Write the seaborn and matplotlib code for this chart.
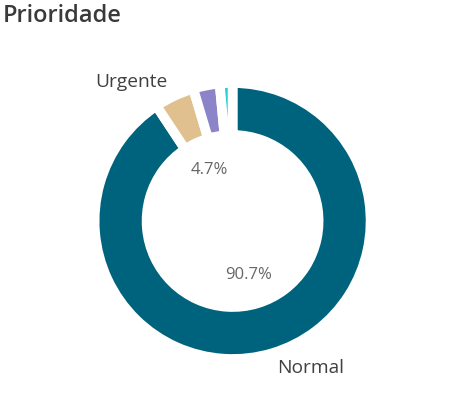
import matplotlib
matplotlib.use("Agg")
import matplotlib.pyplot as plt
import seaborn as sns

# Data
categories = ["Normal", "Urgente", "Alta", "Crítica"]
values = [90.7, 4.7, 3.1, 1.5]
colors = ["#00637D", "#E1C08F", "#8C84C8", "#22D3D6"]
label_threshold = 4.0

sns.set_theme(style="white")
plt.rcParams["font.family"] = ["Open Sans", "DejaVu Sans"]

W, H = 467, 396
fig = plt.figure(figsize=(W / 100, H / 100), dpi=100)
ax = fig.add_axes([0, 0, 1, 1])

total = sum(values)
labels = [c if v / total * 100 >= label_threshold else "" for c, v in zip(categories, values)]

def fmt(p):
    return f"{p:.1f}%" if p >= label_threshold else ""

cx, cy = 232.6, H - 221
lw = 7
wedges, texts, autotexts = ax.pie(
    values,
    labels=labels,
    colors=colors,
    startangle=90,
    counterclock=False,
    center=(cx, cy),
    radius=138,
    autopct=fmt,
    pctdistance=0.405,
    labeldistance=1.115,
    wedgeprops=dict(width=52, edgecolor="white", linewidth=lw),
    textprops=dict(fontsize=13.8, color="#404040"),
    frame=True,
)
ax.set_xlim(0, W)
ax.set_ylim(0, H)
ax.set_aspect("equal")
ax.axis("off")
for t in texts:
    x, _ = t.get_position()
    t.set_horizontalalignment("right" if x < cx else "left")
for t in autotexts:
    t.set_color("#666666")
    t.set_fontsize(12)

fig.text(3 / W, 1 - 4 / H, "Prioridade", ha="left", va="top",
         fontsize=17, fontweight="semibold", color="#3A3A3A")

fig.savefig("out.png", dpi=100, facecolor="white")
